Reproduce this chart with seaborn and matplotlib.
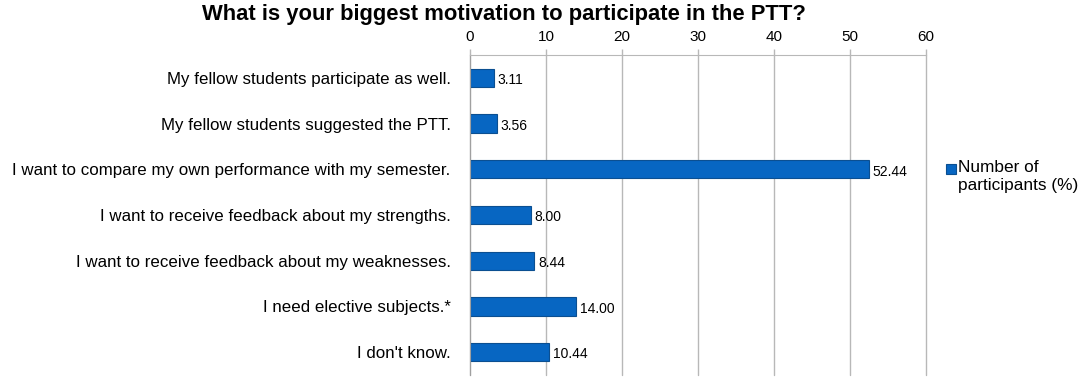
import numpy as np
import pandas as pd
import matplotlib
matplotlib.use("Agg")
import matplotlib.pyplot as plt
from matplotlib.patches import Rectangle
from matplotlib.legend_handler import HandlerPatch
import seaborn as sns

# data
answers = [
    "My fellow students participate as well.",
    "My fellow students suggested the PTT.",
    "I want to compare my own performance with my semester.",
    "I want to receive feedback about my strengths.",
    "I want to receive feedback about my weaknesses.",
    "I need elective subjects.*",
    "I don't know.",
]
percent = [3.11, 3.56, 52.44, 8.00, 8.44, 14.00, 10.44]
series_name = "Number of\nparticipants (%)"

df = pd.DataFrame({"answer": answers, "percent": percent, "series": series_name})

sns.set_style("white")
plt.rcParams["font.family"] = ["Liberation Sans", "DejaVu Sans"]
plt.rcParams["text.color"] = "black"
plt.rcParams["xtick.color"] = "black"
plt.rcParams["ytick.color"] = "black"

fig = plt.figure(figsize=(10.84, 3.8), dpi=100)
ax = fig.add_axes([0.4336, 0.0132, 0.4207, 0.842])

sns.barplot(data=df, x="percent", y="answer", hue="series", orient="h",
            palette=["#0766C2"], saturation=1, width=0.4,
            edgecolor="#0B4F91", linewidth=0.8, ax=ax)

grid_col = "#B8B8B8"
ax.set_xlim(0, 60)
ax.set_xticks(np.arange(0, 61, 10))
ax.xaxis.tick_top()
ax.tick_params(axis="x", length=4, width=1, color=grid_col, direction="out",
               labelsize=11, pad=4, labelcolor="black")
ax.grid(axis="x", color=grid_col, linewidth=1)
ax.set_axisbelow(True)
for gl in ax.get_xgridlines():
    gl.set_clip_on(False)

ax.set_ylim(6.5, -0.5)
ax.tick_params(axis="y", which="major", length=0, labelsize=12.2, pad=14,
               labelcolor="black")
ax.set_yticks(np.arange(-0.5, 7, 1), minor=True)
ax.tick_params(axis="y", which="minor", length=4, color="#A0A0A0", width=1)

for side in ["right", "bottom"]:
    ax.spines[side].set_visible(False)
ax.spines["left"].set_color("#A0A0A0")
ax.spines["top"].set_color(grid_col)

ax.set_xlabel("")
ax.set_ylabel("")

for bar, v in zip(ax.patches, percent):
    ax.text(bar.get_width() + 0.5, bar.get_y() + bar.get_height() / 2 + 0.05,
            f"{v:.2f}", va="center", ha="left", fontsize=10)


# small square sitting on the baseline of the first label line
def square_patch(legend, orig_handle, xdescent, ydescent, width, height, fontsize):
    return Rectangle((-xdescent, -ydescent + 0.12 * height), width, width)


leg = ax.legend(loc="center left", bbox_to_anchor=(1.028, 0.62), frameon=False,
                fontsize=12.4, handlelength=0.6, handleheight=1.0,
                handletextpad=0.1, borderaxespad=0,
                handler_map={Rectangle: HandlerPatch(patch_func=square_patch)})
for col in leg._legend_handle_box.get_children():
    for item in col.get_children():
        item.align = "top"

fig.text(0.465, 0.947, "What is your biggest motivation to participate in the PTT?",
         ha="center", va="baseline", fontsize=15.8, fontweight="bold")

fig.savefig("out.png", dpi=100)
